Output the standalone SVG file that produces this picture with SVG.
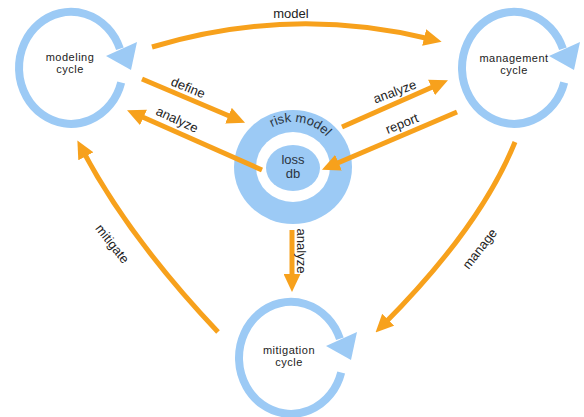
<svg xmlns="http://www.w3.org/2000/svg" xmlns:xlink="http://www.w3.org/1999/xlink" width="584" height="417" viewBox="0 0 584 417">
<style>
  .cyc { fill: none; stroke: #9ccaf5; stroke-width: 8; }
  .cyh { fill: #9ccaf5; }
  .con { fill: none; stroke: #f7a11c; stroke-width: 5; }
  .lbl { font-family: "Liberation Sans", Arial, sans-serif; font-size: 13px; fill: #222; text-anchor: middle; }
  .nt { font-family: "Liberation Sans", Arial, sans-serif; font-size: 11px; fill: #222; text-anchor: middle; letter-spacing: 0.5px; }
  .ct { font-family: "Liberation Sans", Arial, sans-serif; font-size: 13px; fill: #2a3440; text-anchor: middle; }
</style>
<defs>
  <marker id="ah" markerUnits="userSpaceOnUse" viewBox="0 0 18 17" markerWidth="18" markerHeight="17" refX="6" refY="8.5" orient="auto">
    <path d="M0,0 L18,8.5 L0,17 z" fill="#f7a11c"/>
  </marker>
  <g id="cycle">
    <path class="cyc" d="M50.2,14.5 A52,56 0 1 1 48.9,-19.2"/>
    <path class="cyh" d="M35,-12 L66,-26 L60,2 z"/>
  </g>
  <path id="rmArc" d="M248,167 A45,45 0 0 1 338,167"/>
</defs>
<rect width="584" height="417" fill="#ffffff"/>

<g id="modeling-cycle">
  <use xlink:href="#cycle" href="#cycle" transform="translate(71,68)"/>
  <text class="nt" x="70" y="61">modeling</text>
  <text class="nt" x="70" y="73">cycle</text>
</g>

<g id="management-cycle">
  <use xlink:href="#cycle" href="#cycle" transform="translate(514,68)"/>
  <text class="nt" x="514" y="62">management</text>
  <text class="nt" x="514" y="74">cycle</text>
</g>

<g id="mitigation-cycle">
  <use xlink:href="#cycle" href="#cycle" transform="translate(291,358)"/>
  <text class="nt" x="289" y="354">mitigation</text>
  <text class="nt" x="289" y="366">cycle</text>
</g>

<g id="risk-model">
  <ellipse cx="293" cy="167" rx="59" ry="57" fill="#9ccaf5"/>
  <ellipse cx="293" cy="167" rx="37" ry="35" fill="#ffffff"/>
  <ellipse cx="293" cy="168" rx="27" ry="23" fill="#9ccaf5"/>
  <text class="ct"><textPath xlink:href="#rmArc" href="#rmArc" startOffset="55.5%">risk model</textPath></text>
  <text class="ct" x="293" y="164">loss</text>
  <text class="ct" x="293" y="178">db</text>
</g>

<g id="connectors">
  <path class="con" d="M152,47 Q291,5 430,39" marker-end="url(#ah)"/>
  <path class="con" d="M142,79 L234,118" marker-end="url(#ah)"/>
  <path class="con" d="M262,170 L138,115" marker-end="url(#ah)"/>
  <path class="con" d="M342,127 L437,85" marker-end="url(#ah)"/>
  <path class="con" d="M457,112 L333,165" marker-end="url(#ah)"/>
  <path class="con" d="M292,230 L292,280" marker-end="url(#ah)"/>
  <path class="con" d="M515,142 Q480.5,227 384,324" marker-end="url(#ah)"/>
  <path class="con" d="M218,332 Q129.5,238.5 83,151" marker-end="url(#ah)"/>

  <text class="lbl" x="291" y="18">model</text>
  <text class="lbl" transform="translate(188,88) rotate(22)" y="4">define</text>
  <text class="lbl" transform="translate(177,120) rotate(25)" y="4">analyze</text>
  <text class="lbl" transform="translate(395,92) rotate(-20)" y="4">analyze</text>
  <text class="lbl" transform="translate(402,124) rotate(-22)" y="4">report</text>
  <text class="lbl" transform="translate(301,251) rotate(90)" y="4">analyze</text>
  <text class="lbl" transform="translate(480,249) rotate(-52)" y="4">manage</text>
  <text class="lbl" transform="translate(112,244) rotate(52)" y="4">mitigate</text>
</g>
</svg>
